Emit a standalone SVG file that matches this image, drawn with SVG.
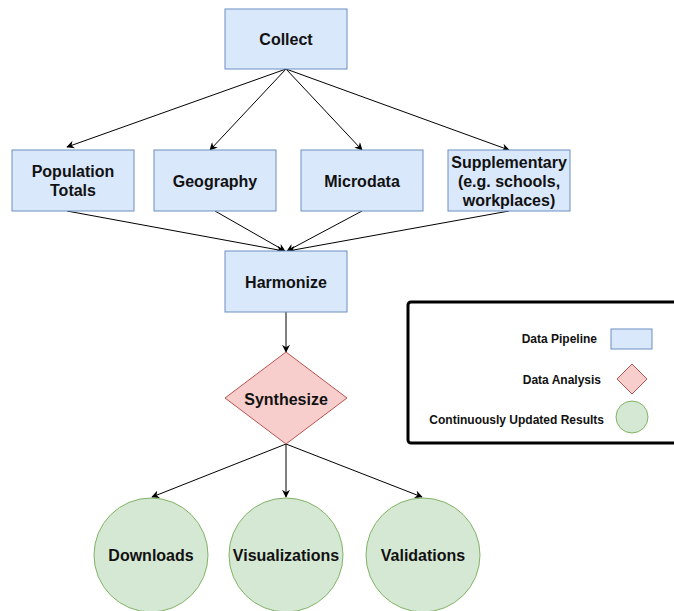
<svg xmlns="http://www.w3.org/2000/svg" width="674" height="611" viewBox="0 0 674 611">
<style>
.b{fill:#dae8fc;stroke:#6c8ebf;stroke-width:1}
.r{fill:#f8cecc;stroke:#b85450;stroke-width:1}
.g{fill:#d5e8d4;stroke:#82b366;stroke-width:1}
.t{font-family:"Liberation Sans",Arial,sans-serif;font-weight:bold;font-size:16px;fill:#111;text-anchor:middle}
.l{font-family:"Liberation Sans",Arial,sans-serif;font-weight:bold;font-size:12px;fill:#111;text-anchor:end}
.c{fill:none;stroke:#000;stroke-width:1;marker-end:url(#ah)}
</style>
<defs>
<marker id="ah" viewBox="0 0 10 10" refX="9" refY="5" markerWidth="8" markerHeight="8" markerUnits="userSpaceOnUse" orient="auto">
<path d="M0,0 L10,5 L0,10 L3,5 Z" fill="#000"/>
</marker>
</defs>
<rect width="674" height="611" fill="#fff"/>
<g id="connectors">
<line class="c" x1="286" y1="69" x2="67" y2="147"/>
<line class="c" x1="286" y1="69" x2="210" y2="150"/>
<line class="c" x1="286" y1="69" x2="362" y2="150"/>
<line class="c" x1="286" y1="69" x2="509" y2="150"/>
<line class="c" x1="67" y1="211" x2="284" y2="251"/>
<line class="c" x1="215" y1="211" x2="285" y2="251"/>
<line class="c" x1="362" y1="211" x2="287" y2="251"/>
<line class="c" x1="509" y1="211" x2="288" y2="251"/>
<line class="c" x1="286" y1="312" x2="286" y2="352"/>
<line class="c" x1="286" y1="444" x2="152" y2="497"/>
<line class="c" x1="286" y1="444" x2="286" y2="497"/>
<line class="c" x1="286" y1="444" x2="422" y2="497"/>
</g>
<g id="collect"><rect class="b" x="225" y="9" width="122" height="60"/><text class="t" x="286" y="45">Collect</text></g>
<g id="population"><rect class="b" x="12" y="150" width="122" height="61"/><text class="t" x="73" y="177">Population</text><text class="t" x="73" y="196">Totals</text></g>
<g id="geography"><rect class="b" x="154" y="150" width="122" height="61"/><text class="t" x="215" y="187">Geography</text></g>
<g id="microdata"><rect class="b" x="301" y="150" width="122" height="61"/><text class="t" x="362" y="187">Microdata</text></g>
<g id="supplementary"><rect class="b" x="448" y="150" width="122" height="61"/><text class="t" x="509" y="168">Supplementary</text><text class="t" x="509" y="187">(e.g. schools,</text><text class="t" x="509" y="206">workplaces)</text></g>
<g id="harmonize"><rect class="b" x="225" y="251" width="122" height="61"/><text class="t" x="286" y="288">Harmonize</text></g>
<g id="synthesize"><polygon class="r" points="286,352 347,398 286,444 225,398"/><text class="t" x="286" y="405">Synthesize</text></g>
<g id="downloads"><circle class="g" cx="151" cy="555" r="57"/><text class="t" x="151" y="561">Downloads</text></g>
<g id="visualizations"><circle class="g" cx="286" cy="555" r="57"/><text class="t" x="286" y="561">Visualizations</text></g>
<g id="validations"><circle class="g" cx="423" cy="555" r="57"/><text class="t" x="423" y="561">Validations</text></g>
<g id="legend">
<rect x="408" y="302" width="280" height="141" rx="3" fill="#fff" stroke="#000" stroke-width="3"/>
<text class="l" x="597" y="343">Data Pipeline</text>
<rect class="b" x="611" y="329" width="41" height="20"/>
<text class="l" x="601" y="384">Data Analysis</text>
<polygon class="r" points="632,364 647,379 632,394 617,379"/>
<text class="l" x="604" y="424">Continuously Updated Results</text>
<circle class="g" cx="632" cy="417" r="16"/>
</g>
</svg>
